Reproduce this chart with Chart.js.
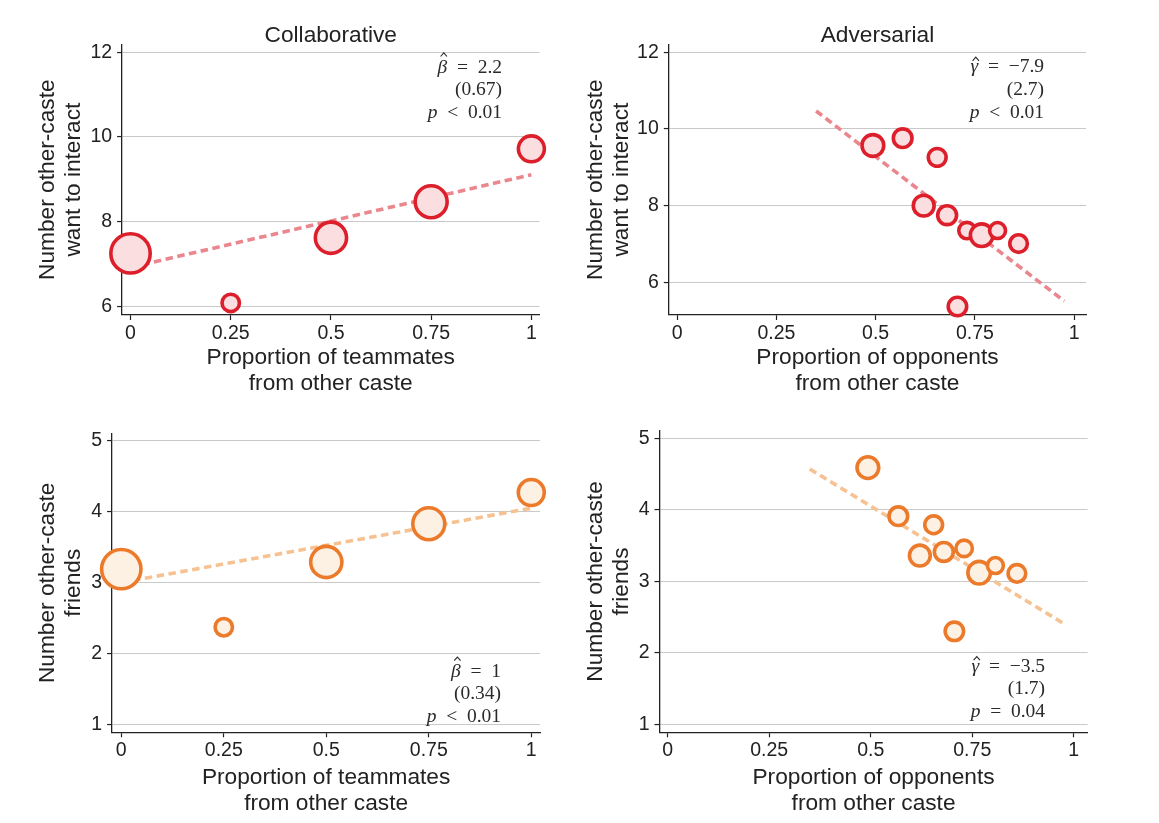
<!DOCTYPE html>
<html lang="en">
<head>
    <meta charset="UTF-8">
    <title>Other-caste interaction by team composition</title>
    <script src="https://cdn.jsdelivr.net/npm/chart.js"></script>
    <style>
        body { margin: 0; background: #fff; }
        .panel { position: absolute; }
    </style>
</head>
<body>
    <div class="panel" style="left:0;top:0;width:580px;height:410px"><canvas id="collabInteract"></canvas></div>
    <div class="panel" style="left:580px;top:0;width:579px;height:410px"><canvas id="advInteract"></canvas></div>
    <div class="panel" style="left:0;top:410px;width:580px;height:413px"><canvas id="collabFriends"></canvas></div>
    <div class="panel" style="left:580px;top:410px;width:579px;height:413px"><canvas id="advFriends"></canvas></div>

    <script>
        // tick labels
        const xTicks = [0, 0.25, 0.5, 0.75, 1];
        const interactTicks = [6, 8, 10, 12];
        const friendTicks = [1, 2, 3, 4, 5];

        // collaborative: one bubble per share of teammates from other caste
        const teamShare = [0, 0.25, 0.5, 0.75, 1];
        const teamInteract = [7.25, 6.08, 7.62, 8.47, 9.72];
        const teamFriends = [3.19, 2.37, 3.29, 3.83, 4.27];
        const teamWeight = [20.0, 3.9, 12.6, 13.2, 8.7];   // relative group size

        // adversarial: one bubble per share of opponents from other caste
        const oppShare = [0.493, 0.568, 0.655, 0.621, 0.680, 0.730, 0.767, 0.807, 0.860, 0.706];
        const oppInteract = [9.57, 9.76, 9.26, 8.00, 7.75, 7.35, 7.23, 7.35, 7.01, 5.37];
        const oppFriends = [4.59, 3.91, 3.79, 3.36, 3.41, 3.46, 3.12, 3.22, 3.11, 2.30];
        const oppWeight = [6.1, 4.5, 4.1, 5.6, 4.6, 3.5, 6.6, 3.3, 4.0, 4.4];

        // fitted lines (end points)
        const teamFitX = [0, 1];
        const teamInteractFit = [6.92, 9.11];
        const teamFriendsFit = [3.0, 4.05];
        const oppFitX = [0.35, 0.975];
        const oppInteractFit = [10.47, 5.51];
        const oppFriendsFit = [4.57, 2.41];

        const SANS = '"Liberation Sans", Arial, Helvetica, sans-serif';
        const SERIF = '"Liberation Serif", "Times New Roman", serif';
        const INK = '#222';
        const SP = '\u2002';

        // panel title + coefficient box
        const panelText = {
            id: 'panelText',
            afterDraw(chart, args, opts) {
                const { ctx, chartArea } = chart;
                ctx.save();
                ctx.fillStyle = INK;
                ctx.textBaseline = 'alphabetic';
                if (opts.title) {
                    ctx.font = '22.7px ' + SANS;
                    ctx.textAlign = 'center';
                    ctx.fillText(opts.title, (chartArea.left + chartArea.right) / 2, opts.titleY);
                }
                ctx.fillStyle = '#2a2a2a';
                ctx.strokeStyle = '#2a2a2a';
                ctx.textAlign = 'right';
                opts.stats.forEach((segs, i) => {
                    let x = opts.statX;
                    const y = opts.statY + i * 22.7;
                    for (let j = segs.length - 1; j >= 0; j--) {
                        const s = segs[j];
                        ctx.font = (s.it ? 'italic ' : '') + '19.5px ' + SERIF;
                        ctx.fillText(s.t, x, y);
                        const w = ctx.measureText(s.t).width;
                        if (s.hat) {
                            // circumflex accent over the estimator
                            const cx = x - w / 2 + 1.5;
                            const top = y - s.hat;
                            ctx.lineWidth = 1.1;
                            ctx.beginPath();
                            ctx.moveTo(cx - 3.2, top);
                            ctx.lineTo(cx, top - 3.6);
                            ctx.lineTo(cx + 3.2, top);
                            ctx.stroke();
                        }
                        x -= w;
                    }
                });
                ctx.restore();
            }
        };

        function panel(id, o) {
            const bubbles = o.xs.map((x, i) => ({ x: x, y: o.ys[i], r: 4.4 * Math.sqrt(o.w[i]) }));
            const fit = o.fitX.map((x, i) => ({ x: x, y: o.fitY[i] }));

            new Chart(document.getElementById(id), {
                data: {
                    datasets: [
                        {
                            type: 'bubble',
                            data: bubbles,
                            backgroundColor: o.fill,
                            borderColor: o.stroke,
                            borderWidth: 3.6,
                            hoverBorderWidth: 3.6,
                            clip: false,
                            order: 1
                        },
                        {
                            type: 'line',
                            data: fit,
                            borderColor: o.lineColor,
                            borderWidth: 3.6,
                            borderDash: [7.5, 4.5],
                            pointRadius: 0,
                            fill: false,
                            order: 2
                        }
                    ]
                },
                options: {
                    responsive: true,
                    maintainAspectRatio: false,
                    animation: false,
                    events: [],
                    layout: { padding: o.pad },
                    plugins: {
                        legend: { display: false },
                        tooltip: { enabled: false },
                        panelText: { title: o.title, titleY: 41.7, stats: o.stats, statX: o.statX, statY: o.statY }
                    },
                    scales: {
                        x: {
                            type: 'linear',
                            min: o.xMin,
                            max: o.xMax,
                            afterBuildTicks: s => { s.ticks = xTicks.map(v => ({ value: v })); },
                            afterFit: s => { s.height = o.xH; },
                            ticks: {
                                autoSkip: false,
                                maxRotation: 0,
                                padding: 2,
                                color: INK,
                                font: { family: SANS, size: 19.5 },
                                callback: v => String(v)
                            },
                            grid: { drawOnChartArea: false, drawTicks: true, tickLength: 5, tickColor: INK, tickWidth: 1.2 },
                            border: { color: INK, width: 1.3 },
                            title: {
                                display: true,
                                text: o.xTitle,
                                color: INK,
                                padding: 0,
                                font: { family: SANS, size: 22.7, lineHeight: '26px' }
                            }
                        },
                        y: {
                            type: 'linear',
                            min: o.yMin,
                            max: o.yMax,
                            afterBuildTicks: s => { s.ticks = o.yTicks.map(v => ({ value: v })); },
                            afterFit: s => { s.width = o.yW; },
                            ticks: {
                                padding: 5,
                                color: INK,
                                font: { family: SANS, size: 19.5 },
                                callback: v => String(v)
                            },
                            grid: { color: '#c9c9c9', lineWidth: 1.1, tickLength: 5, tickColor: INK, tickWidth: 1.2 },
                            border: { color: INK, width: 1.3 },
                            title: {
                                display: true,
                                text: o.yTitle,
                                color: INK,
                                padding: 0,
                                font: { family: SANS, size: 22.7, lineHeight: '26px' }
                            }
                        }
                    }
                },
                plugins: [panelText]
            });
        }

        const red = { fill: '#fbdfe0', stroke: '#dc1f2a', lineColor: '#ea868d' };
        const orange = { fill: '#fdf1e4', stroke: '#ec7a2b', lineColor: '#f6c292' };

        panel('collabInteract', Object.assign({}, red, {
            xs: teamShare, ys: teamInteract, w: teamWeight,
            fitX: teamFitX, fitY: teamInteractFit,
            title: 'Collaborative',
            xTitle: ['Proportion of teammates', 'from other caste'],
            yTitle: ['Number other-caste', 'want to interact'],
            yTicks: interactTicks,
            xMin: -0.021, xMax: 1.020, yMin: 5.794, yMax: 12.19,
            pad: { left: 34.5, right: 40.6, top: 44.3, bottom: 13.7 },
            yW: 87.6, xH: 81.3,
            stats: [[{ t: 'β', it: true, hat: 16 }, { t: SP + '=' + SP + '2.2' }], [{ t: '(0.67)' }], [{ t: 'p', it: true }, { t: SP + '<' + SP + '0.01' }]],
            statX: 502, statY: 72.5
        }));

        panel('advInteract', Object.assign({}, red, {
            xs: oppShare, ys: oppInteract, w: oppWeight,
            fitX: oppFitX, fitY: oppInteractFit,
            title: 'Adversarial',
            xTitle: ['Proportion of opponents', 'from other caste'],
            yTitle: ['Number other-caste', 'want to interact'],
            yTicks: interactTicks,
            xMin: -0.021, xMax: 1.030, yMin: 5.147, yMax: 12.21,
            pad: { left: 3, right: 72.9, top: 44.3, bottom: 13.7 },
            yW: 85.8, xH: 81.3,
            stats: [[{ t: 'γ', it: true, hat: 11.5 }, { t: SP + '=' + SP + '\u22127.9' }], [{ t: '(2.7)' }], [{ t: 'p', it: true }, { t: SP + '<' + SP + '0.01' }]],
            statX: 464, statY: 72.3
        }));

        panel('collabFriends', Object.assign({}, orange, {
            xs: teamShare, ys: teamFriends, w: teamWeight,
            fitX: teamFitX, fitY: teamFriendsFit,
            title: '',
            xTitle: ['Proportion of teammates', 'from other caste'],
            yTitle: ['Number other-caste', 'friends'],
            yTicks: friendTicks,
            xMin: -0.0224, xMax: 1.0215, yMin: 0.888, yMax: 5.106,
            pad: { left: 34.5, right: 39.9, top: 20.7, bottom: 6.7 },
            yW: 77.6, xH: 84,
            stats: [[{ t: 'β', it: true, hat: 16 }, { t: SP + '=' + SP + '1' }], [{ t: '(0.34)' }], [{ t: 'p', it: true }, { t: SP + '<' + SP + '0.01' }]],
            statX: 501, statY: 266.7
        }));

        panel('advFriends', Object.assign({}, orange, {
            xs: oppShare, ys: oppFriends, w: oppWeight,
            fitX: oppFitX, fitY: oppFriendsFit,
            title: '',
            xTitle: ['Proportion of opponents', 'from other caste'],
            yTitle: ['Number other-caste', 'friends'],
            yTicks: friendTicks,
            xMin: -0.020, xMax: 1.034, yMin: 0.888, yMax: 5.106,
            pad: { left: 3, right: 71.4, top: 20.7, bottom: 6.7 },
            yW: 76.5, xH: 84,
            stats: [[{ t: 'γ', it: true, hat: 11.5 }, { t: SP + '=' + SP + '\u22123.5' }], [{ t: '(1.7)' }], [{ t: 'p', it: true }, { t: SP + '=' + SP + '0.04' }]],
            statX: 465, statY: 261.7
        }));
    </script>
</body>
</html>
